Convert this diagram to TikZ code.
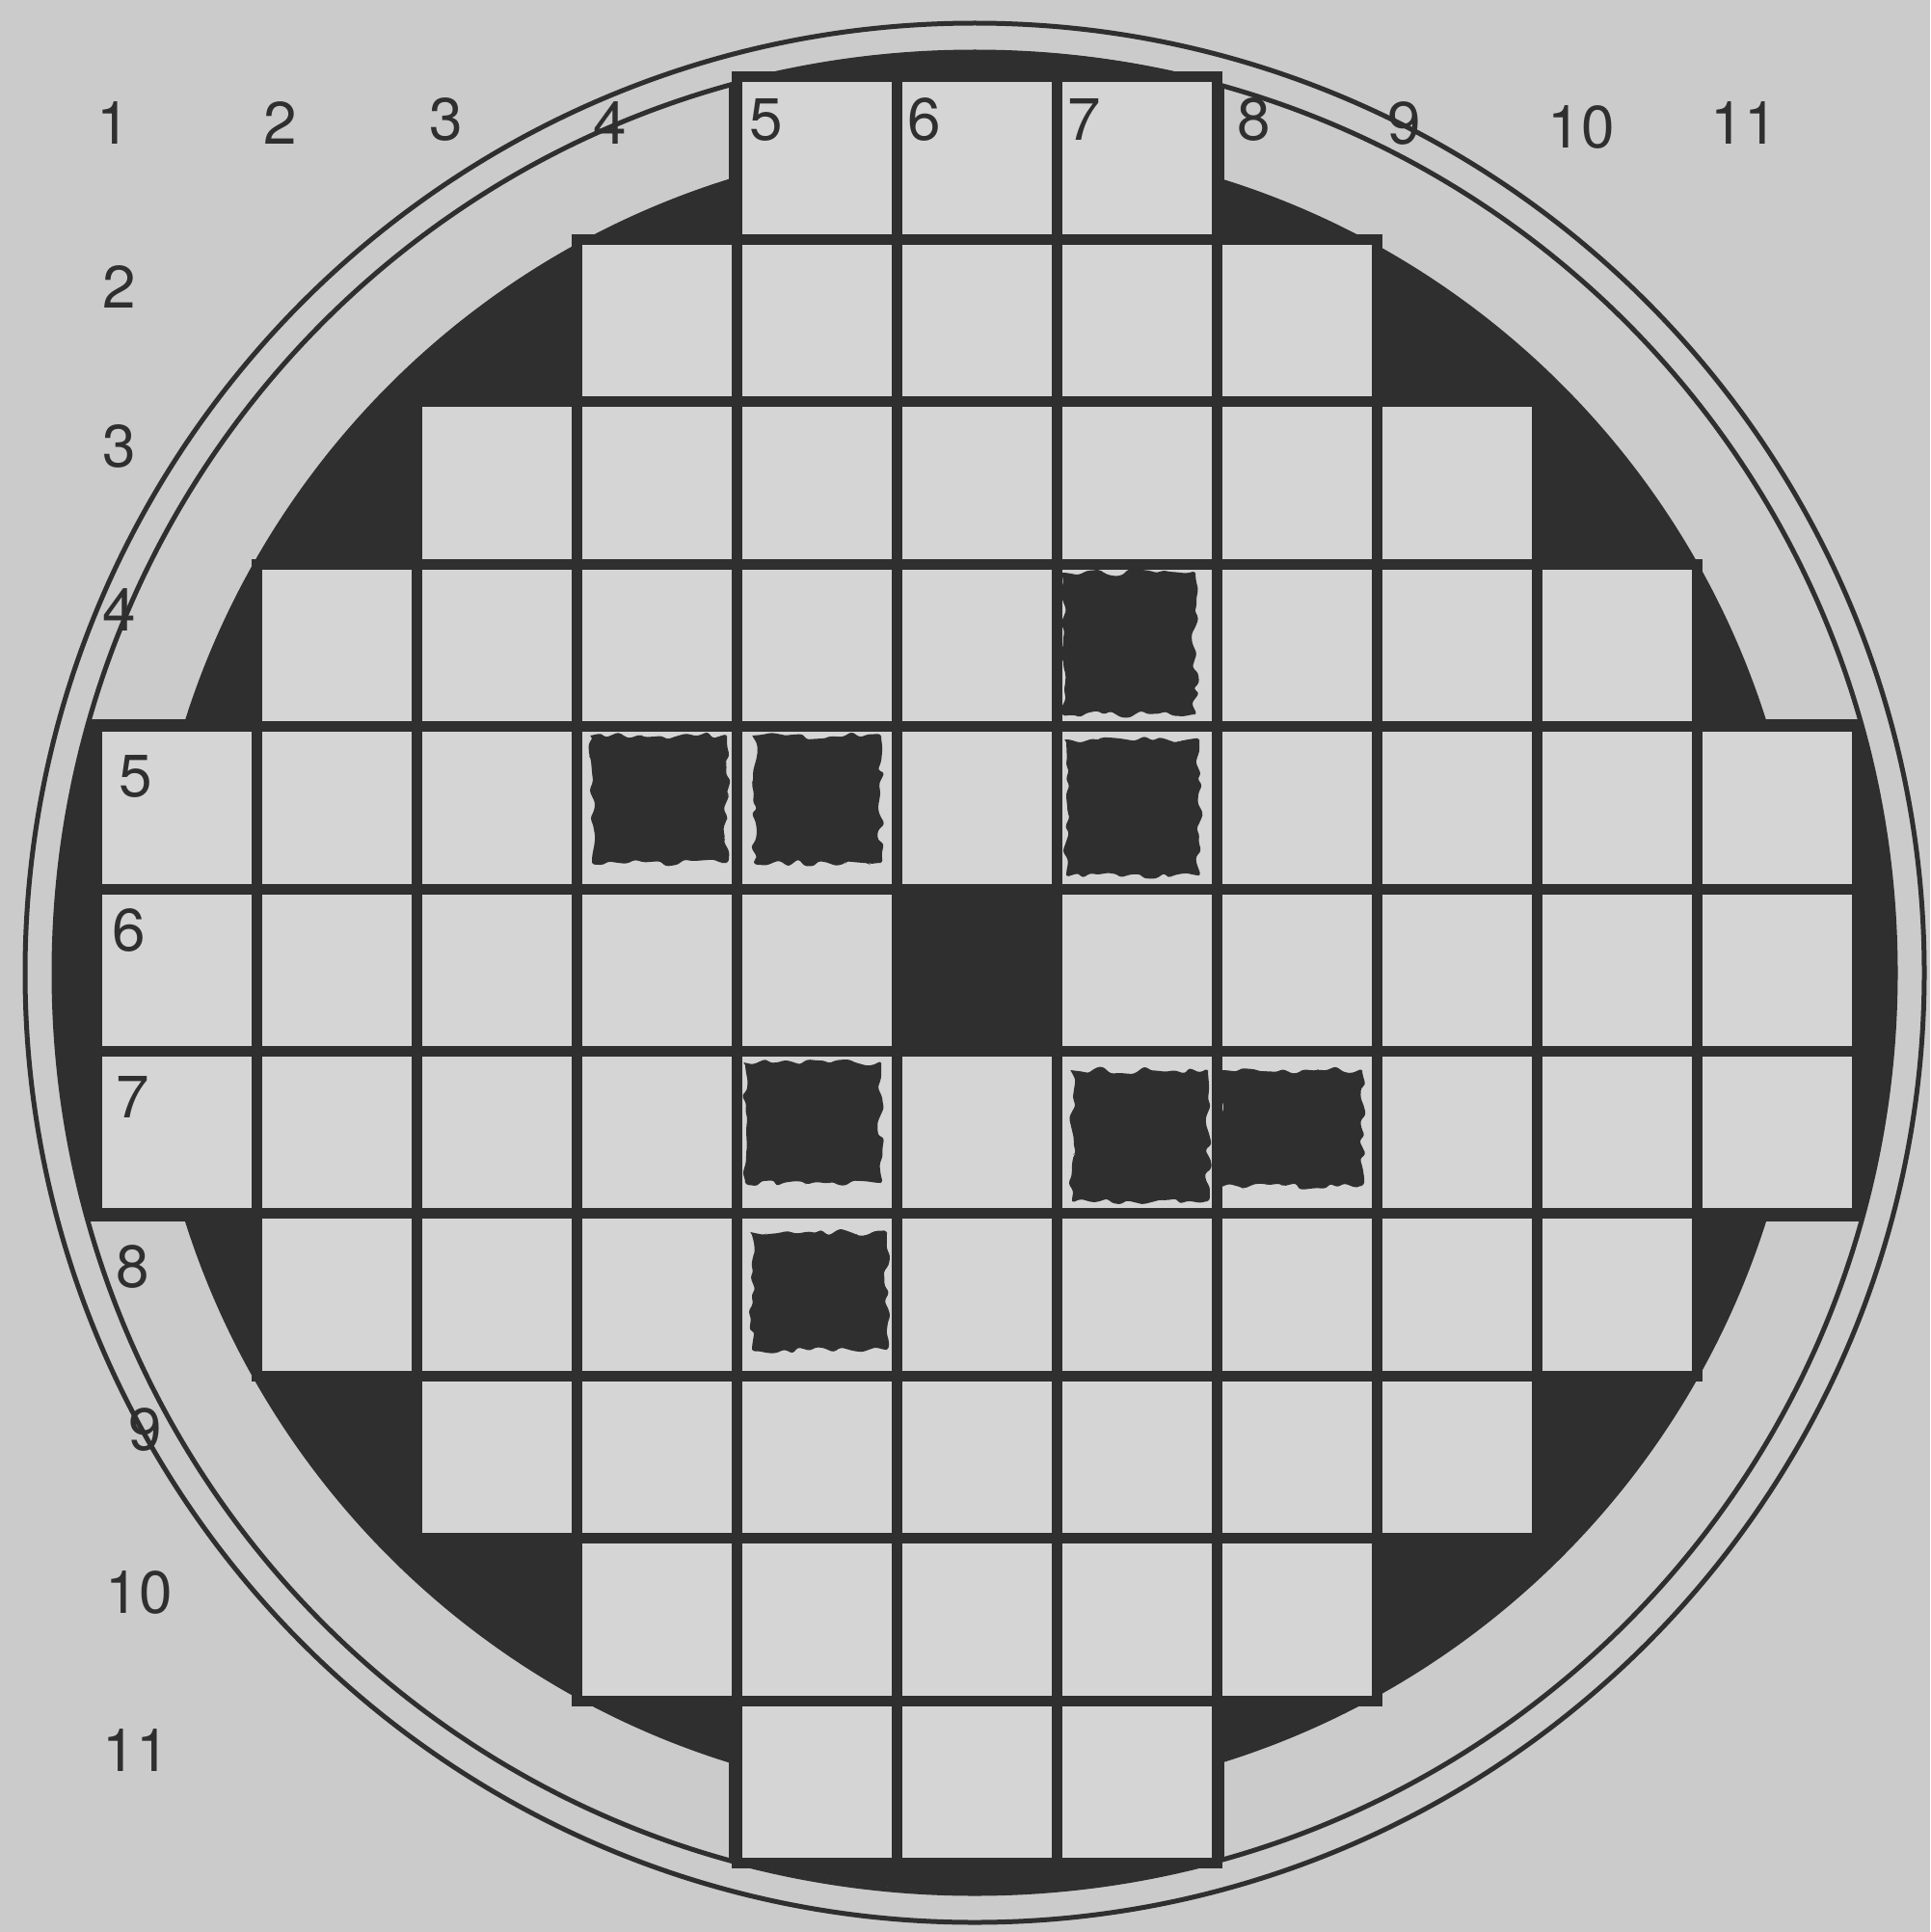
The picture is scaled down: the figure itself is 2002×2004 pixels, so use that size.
\documentclass[tikz,border=0pt]{standalone}
\usepackage{fontspec}
\setmainfont{TeX Gyre Heros}
\usetikzlibrary{decorations.pathmorphing}
\definecolor{paper}{HTML}{CBCBCB}
\definecolor{cellc}{HTML}{D5D5D5}
\definecolor{ink}{HTML}{2F2F2F}
\tikzset{
  ring/.style={draw=ink, line width=5},
  cellbox/.style={fill=cellc, draw=ink, line width=11},
  blob/.style={fill=ink, decorate, decoration={random steps, segment length=8, amplitude=4}, rounded corners=3},
  lbl/.style={font=\fontsize{62}{70}\selectfont, text=ink, inner sep=0, anchor=center},
}
\begin{document}
\begin{tikzpicture}[x=1pt,y=1pt]
\pgfmathsetseed{7}
\useasboundingbox (0,0) rectangle (2002,-2004);
\fill[paper] (0,0) rectangle (2002,-2004);
% rings
\draw[ring] (1011,-1009) circle (985);
\draw[ring] (1011,-1009) circle (955);
% dark disc
\fill[ink] (1012,-1007) circle (860);
\begin{scope}
  \clip (1012,-1007) circle (955);
  \fill[ink] (0,-746) rectangle (2002,-1267);
  \fill[ink] (756,0) rectangle (1270,-2004);
\end{scope}
% cells
\foreach \r/\a/\b in {1/5/7,2/4/8,3/3/9,4/2/10,5/1/11,6/1/11,7/1/11,8/2/10,9/3/9,10/4/8,11/5/7}{
  \foreach \c in {\a,...,\b}{
    \path[cellbox] ({100+166*(\c-1)},{-(80+168.4*(\r-1))}) rectangle ++(166,-168.4);
  }
}
% solid centre cell
\fill[ink] (924.5,-916.5) rectangle (1101.5,-1095.5);
% hand-filled cells
\foreach \xa/\ya/\xb/\yb in {1102/594/1240/741, 614/763/754/895, 782/763/914/895, 1106/767/1244/908,
  773/1102/914/1227, 1112/1110/1253/1246, 1266/1110/1413/1230, 780/1278/920/1400}{
  \fill[blob] (\xa,-\ya) rectangle (\xb,-\yb);
}
% column labels
\node[lbl] (c1) at (118,-128) {1};
\node[lbl] (c2) at (291,-128) {2};
\node[lbl] (c3) at (463,-124) {3};
\node[lbl] (c4) at (633,-128) {4};
\node[lbl] (c5) at (795,-124) {5};
\node[lbl] (c6) at (959,-124) {6};
\node[lbl] (c7) at (1125,-124) {7};
\node[lbl] (c8) at (1301,-124) {8};
\node[lbl] (c9) at (1457,-128) {9};
\node[lbl] (c10) at (1640,-132) {10};
\node[lbl] (c11) at (1809,-128) {11};
% row labels
\node[lbl] (r2) at (124,-298) {2};
\node[lbl] (r3) at (124,-463) {3};
\node[lbl] (r4) at (124,-633) {4};
\node[lbl] (r5) at (141,-805) {5};
\node[lbl] (r6) at (134,-965) {6};
\node[lbl] (r7) at (138,-1138) {7};
\node[lbl] (r8) at (138,-1314) {8};
\node[lbl] (r9) at (151,-1483) {9};
\node[lbl] (r10) at (144,-1652) {10};
\node[lbl] (r11) at (141,-1815) {11};
\end{tikzpicture}
\end{document}
